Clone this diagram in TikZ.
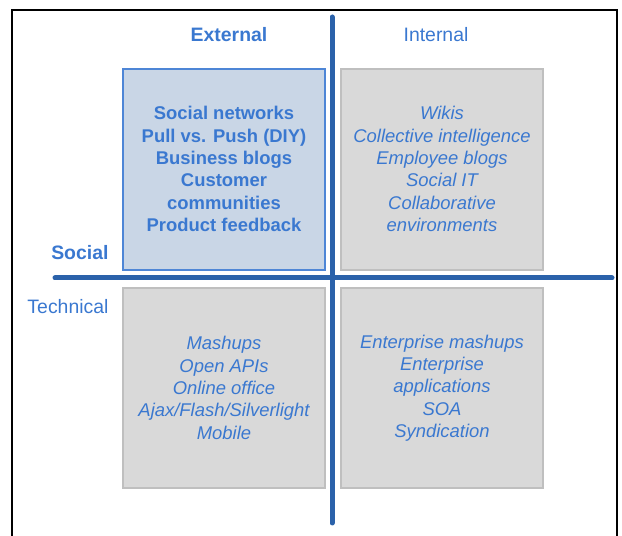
\documentclass[tikz,border=0pt]{standalone}
\usepackage{fontspec}
\setmainfont{Liberation Sans}
\definecolor{txtblue}{RGB}{58,120,208}
\definecolor{axisblue}{RGB}{43,98,170}
\definecolor{extfill}{RGB}{201,214,230}
\definecolor{extedge}{RGB}{78,134,214}
\definecolor{cellfill}{RGB}{217,217,217}
\definecolor{celledge}{RGB}{191,191,191}
\begin{document}
\begin{tikzpicture}[x=1bp,y=1bp,
  cell/.style={fill=cellfill,draw=celledge,line width=1.2bp},
  extcell/.style={fill=extfill,draw=extedge,line width=1.6bp},
  celltext/.style={text=txtblue,align=center,font=\fontsize{18.5}{22.4}\selectfont\itshape},
  exttext/.style={text=txtblue,align=center,font=\fontsize{18.5}{22.4}\selectfont\bfseries},
  axislabel/.style={text=txtblue,font=\fontsize{19.5}{23}\selectfont},
  axisbold/.style={text=txtblue,font=\fontsize{19.5}{23}\selectfont\bfseries},
  axis/.style={draw=axisblue,line width=5bp,line cap=round}]
\useasboundingbox (0,0) rectangle (622,536);
% outer frame, open at the bottom
\draw[line width=2bp] (12,-5) -- (12,526) -- (617,526) -- (617,-5);
% quadrant cells
\draw[extcell] (123,266) rectangle (325,467);
\draw[cell] (341,266) rectangle (543,467);
\draw[cell] (123,48) rectangle (325,248);
\draw[cell] (341,48) rectangle (543,248);
% axes
\coordinate (vtop) at (332,519);
\coordinate (vbot) at (332,13);
\coordinate (hleft) at (55,258);
\coordinate (hright) at (612,258);
\draw[axis] (vtop) -- (vbot);
\draw[axis] (hleft) -- (hright);
% axis labels
\node[axisbold] (ext) at (229,501) {External};
\node[axislabel] (int) at (436,501) {Internal};
\node[axisbold,anchor=east] (soc) at (112,283) {Social};
\node[axislabel,anchor=east] (tech) at (112,229) {Technical};
% cell contents
\node[exttext] (q1) at (224,367) {Social networks\\Pull vs. Push (DIY)\\Business blogs\\Customer\\communities\\Product feedback};
\node[celltext] (q2) at (442,367) {Wikis\\Collective intelligence\\Employee blogs\\Social IT\\Collaborative\\environments};
\node[celltext] (q3) at (224,148) {Mashups\\Open APIs\\Online office\\Ajax/Flash/Silverlight\\Mobile};
\node[celltext] (q4) at (442,148) {Enterprise mashups\\Enterprise\\applications\\SOA\\Syndication};
\end{tikzpicture}
\end{document}
